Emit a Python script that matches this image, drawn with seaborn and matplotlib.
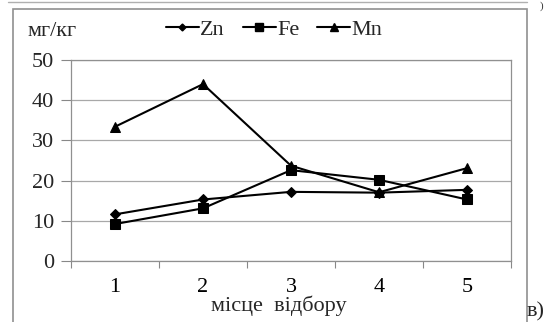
import matplotlib
matplotlib.use("Agg")
import matplotlib.pyplot as plt
import seaborn as sns
import pandas as pd
from matplotlib.patches import Rectangle
from matplotlib.lines import Line2D

sites = [1, 2, 3, 4, 5]
zn = [11.6, 15.3, 17.2, 17.0, 17.7]
fe = [9.2, 13.1, 22.6, 20.2, 15.3]
mn = [33.4, 44.0, 23.7, 17.1, 23.1]
series_names = ["Zn", "Fe", "Mn"]
y_ticks = [0, 10, 20, 30, 40, 50]

sns.set_theme(style="white")
plt.rcParams["font.family"] = ["Liberation Serif", "DejaVu Serif"]

FS = 16

df = pd.DataFrame({
    "site": sites * 3,
    "value": zn + fe + mn,
    "metal": [n for n in series_names for _ in sites],
})

fig = plt.figure(figsize=(5.52, 3.22), dpi=100)
ax = fig.add_axes([71 / 552, 1 - 261 / 322, 440 / 552, 201 / 322])

markers = {"Zn": "D", "Fe": "s", "Mn": "^"}
sizes = {"Zn": 5, "Fe": 7, "Mn": 7.5}
for name in series_names:
    sub = df[df["metal"] == name]
    sns.lineplot(data=sub, x="site", y="value", ax=ax, color="black",
                 linewidth=1.5, marker=markers[name], markersize=sizes[name],
                 markeredgecolor="black", markerfacecolor="black", legend=False)

ax.set_xlim(0.5, 5.5)
ax.set_ylim(0, 50)
ax.set_yticks(y_ticks)
ax.set_yticklabels([str(t) for t in y_ticks], fontsize=FS)
ax.set_xticks(sites)
ax.set_xticklabels([str(s) for s in sites], fontsize=FS)
ax.set_xticks([0.5, 1.5, 2.5, 3.5, 4.5, 5.5], minor=True)
ax.tick_params(axis="x", which="major", length=0, pad=12, colors="black")
ax.tick_params(axis="x", which="minor", length=5, width=0.8, color="#888888", direction="out", bottom=True)
ax.tick_params(axis="y", which="major", length=7, width=0.8, color="#888888", direction="out", left=True, pad=5)
ax.set_xlabel("")
ax.set_ylabel("")
ax.grid(axis="y", color="#a8a8a8", linewidth=0.9)
for s in ax.spines.values():
    s.set_color("#909090")
    s.set_linewidth(0.9)

# legend
handles = [Line2D([0], [0], color="black", linewidth=1.5, marker=markers[n],
                  markersize=sizes[n] - 1.5, markerfacecolor="black") for n in series_names]
fig.legend(handles, series_names, loc="center", bbox_to_anchor=(274 / 552, 1 - 30 / 322),
           ncol=3, frameon=False, fontsize=FS, handlelength=1.5, handletextpad=0.05,
           columnspacing=0.8)

fig.text(28 / 552, 1 - 32 / 322, "мг/кг", fontsize=FS, va="center", ha="left")
fig.text(279 / 552, 1 - 306 / 322, "місце  відбору", fontsize=FS, va="center", ha="center")
fig.text(527 / 552, 1 - 312 / 322, "в)", fontsize=16, va="center", ha="left")

# outer frame
fig.add_artist(Rectangle((12.5 / 552, -0.05), (527 - 12.5) / 552, 1.05 - 9 / 322,
                         transform=fig.transFigure, fill=False, edgecolor="#909090", linewidth=1.2))
fig.add_artist(Line2D([8 / 552, 527 / 552], [1 - 1.5 / 322, 1 - 1.5 / 322],
                      transform=fig.transFigure, color="#b0b0b0", linewidth=1.0))
fig.text(540 / 552, 1 - 6 / 322, ")", fontsize=8, va="center", ha="left", color="#333333")

fig.savefig("out.png", dpi=100)
